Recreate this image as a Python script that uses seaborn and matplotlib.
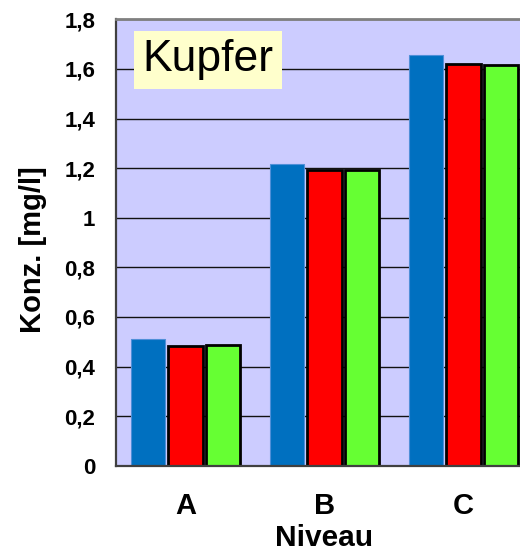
import matplotlib
matplotlib.use("Agg")
import matplotlib.pyplot as plt
import seaborn as sns
import pandas as pd
from matplotlib.ticker import FixedLocator, FuncFormatter

levels = ["A", "B", "C"]
series = ["Reihe 1", "Reihe 2", "Reihe 3"]
values_1 = [0.512, 1.215, 1.655]
values_2 = [0.484, 1.192, 1.621]
values_3 = [0.487, 1.192, 1.617]
colors = ["#0070C0", "#FF0000", "#66FF33"]
y_ticks = [0, 0.2, 0.4, 0.6, 0.8, 1.0, 1.2, 1.4, 1.6, 1.8]

rows = []
for s, vals in zip(series, [values_1, values_2, values_3]):
    for lv, v in zip(levels, vals):
        rows.append({"Niveau": lv, "Serie": s, "Wert": v})
df = pd.DataFrame(rows)

sns.set_theme(style="white")
plt.rcParams["font.family"] = ["Liberation Sans", "DejaVu Sans"]
plt.rcParams["text.color"] = "black"
plt.rcParams["axes.labelcolor"] = "black"
plt.rcParams["xtick.color"] = "black"
plt.rcParams["ytick.color"] = "black"

fig = plt.figure(figsize=(5.2, 5.56), dpi=100)
ax = fig.add_axes([116 / 520, 1 - 465.7 / 556, 417 / 520, (465.7 - 19.3) / 556])
ax.set_facecolor("#CCCCFF")

sns.barplot(data=df, x="Niveau", y="Wert", hue="Serie", order=levels,
            hue_order=series, palette=colors, width=0.81, gap=0.07,
            legend=False, ax=ax, saturation=1)

for i, cont in enumerate(ax.containers):
    for p in cont:
        if i == 0:
            p.set_edgecolor("#4F8FD8")
            p.set_linewidth(0.8)
        else:
            p.set_edgecolor("black")
            p.set_linewidth(2.0)

ax.set_xlim(-0.5, 2.5)
ax.set_ylim(0, 1.8)
ax.yaxis.set_major_locator(FixedLocator(y_ticks))
ax.yaxis.set_major_formatter(FuncFormatter(lambda v, p: ("%g" % round(v, 1)).replace(".", ",")))
ax.set_axisbelow(True)
ax.yaxis.grid(True, color="#111111", linewidth=1.0)

for side in ["top", "bottom", "left"]:
    ax.spines[side].set_visible(True)
ax.spines["right"].set_visible(False)
ax.spines["top"].set_color("#808080")
ax.spines["top"].set_linewidth(2)
ax.spines["left"].set_color("#404040")
ax.spines["left"].set_linewidth(1.6)
ax.spines["bottom"].set_color("#404040")
ax.spines["bottom"].set_linewidth(1.6)

ax.tick_params(axis="y", which="major", direction="out", length=6, width=1.2,
               color="#333333", labelcolor="black", pad=9, labelsize=16)
for t in ax.get_yticklabels():
    t.set_fontweight("bold")
ax.tick_params(axis="x", which="major", length=0, pad=19, labelsize=21,
               labelcolor="black")
ax.xaxis.set_minor_locator(FixedLocator([-0.5, 0.5, 1.5, 2.5]))
ax.tick_params(axis="x", which="minor", direction="out", length=7, width=1.2,
               color="#333333")
for t in ax.get_xticklabels():
    t.set_fontweight("bold")

ax.set_xlabel("Niveau", fontsize=21.5, fontweight="bold", labelpad=3, color="black")
ax.set_ylabel("Konz. [mg/l]", fontsize=21, fontweight="bold", color="black")
ax.yaxis.set_label_coords(-0.165, 0.485)

fig.text(208 / 520, 1 - 60 / 556, "Kupfer", fontsize=32, ha="center", va="center",
         color="black",
         bbox=dict(boxstyle="square,pad=0.2", facecolor="#FFFFCC", edgecolor="none"))

fig.savefig("out.png", dpi=100)
